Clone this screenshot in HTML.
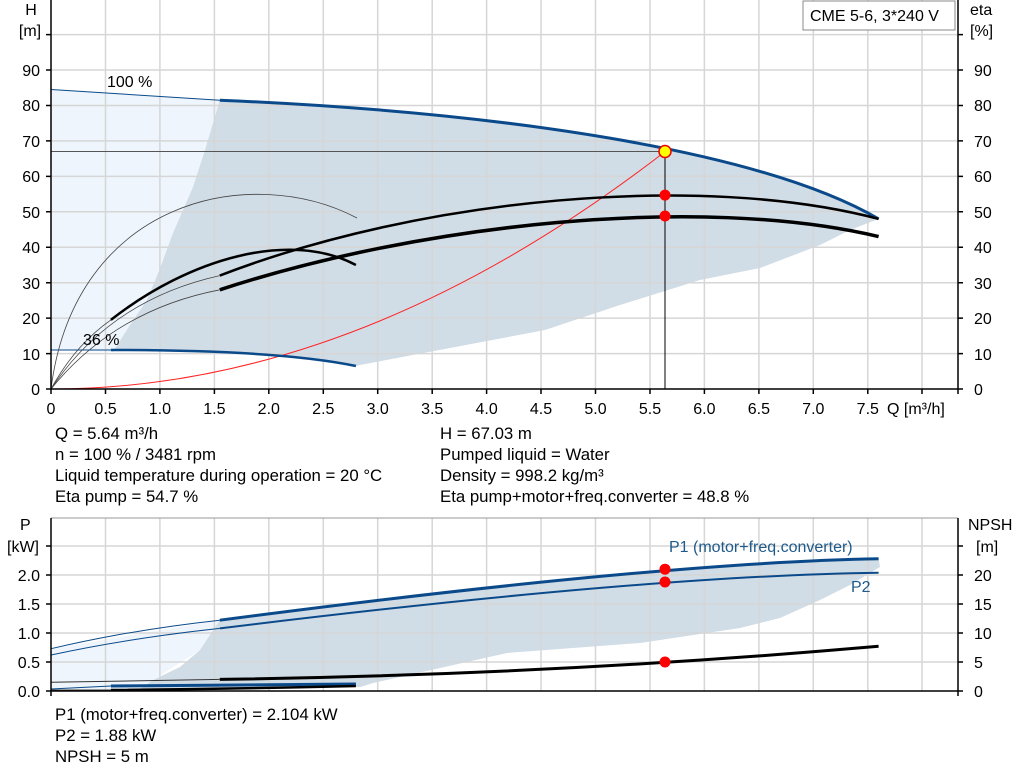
<!DOCTYPE html>
<html><head><meta charset="utf-8"><style>
body{margin:0;background:#fff;}
svg{display:block;font-family:"Liberation Sans",sans-serif;}
</style></head><body>
<svg width="1024" height="781" viewBox="0 0 1024 781" xmlns="http://www.w3.org/2000/svg">
<rect width="1024" height="781" fill="#fff"/>
<!-- TOP CHART -->
<polygon fill="#eef5fc" points="51,89.5 219.8,100.2 205,150 193,187 173,233 147,300 113,352 51,350"/>
<path fill="#d0dce6" d="M219.8,100.2 C500,112 760,150 878.6,218.9 L850,230 820,245 760,268 700,280 620,305 545,330 450,348 360,365 355.9,366 Q280,350 110.9,350 L113,352 130,325 147,300 160,268 173,233 193,187 205,150 Z"/>
<g stroke="#d6d6d6" stroke-width="1.5" fill="none">
<path d="M105.5,0V389M159.9,0V389M214.4,0V389M268.8,0V389M323.3,0V389M377.7,0V389M432.2,0V389M486.6,0V389M541,0V389M595.5,0V389M650,0V389M704.4,0V389M758.9,0V389M813.3,0V389M867.8,0V389M922,0V389"/>
<path d="M51,353.6H958M51,318.1H958M51,282.7H958M51,247.2H958M51,211.8H958M51,176.4H958M51,140.9H958M51,105.5H958M51,70H958M51,34.6H958"/>
</g>
<line x1="51" y1="151.5" x2="665" y2="151.5" stroke="#555" stroke-width="1"/>
<line x1="665" y1="151.5" x2="665" y2="389" stroke="#000" stroke-width="1"/>
<path d="M51,389 Q358.1,389 665.2,151.5" fill="none" stroke="#f22" stroke-width="1"/>
<!-- 100% H -->
<path d="M51,89.5 L219.8,100.2" stroke="#0b4a8a" stroke-width="1" fill="none"/>
<path d="M219.8,100.2 C500,112 760,150 878.6,218.9" fill="none" stroke="#0b4a8a" stroke-width="3"/>
<!-- 36% H -->
<path d="M51,350 L110.9,350" stroke="#0b4a8a" stroke-width="1" fill="none"/>
<path d="M110.9,350 Q280,350 355.9,366" fill="none" stroke="#0b4a8a" stroke-width="2.5"/>
<!-- thin eta curves -->
<g fill="none" stroke="#444" stroke-width="0.8">
<path d="M51,389 Q110,300 219.8,275.6"/>
<path d="M51,389 Q115,310 219.8,289.8"/>
<path d="M51,389 Q75,345 110.9,319.9"/>
<path d="M51,389 C75,200 250,162 357,218"/>
</g>
<path d="M219.8,275.6 C420,198 700,172 878.6,218.9" fill="none" stroke="#000" stroke-width="2.5"/>
<path d="M219.8,289.8 C420,224 700,194 878.6,236.6" fill="none" stroke="#000" stroke-width="3.5"/>
<path d="M110.9,319.9 C190,258 290,230 355.9,265" fill="none" stroke="#000" stroke-width="2.5"/>
<circle cx="665" cy="195.1" r="5.5" fill="#f00"/>
<circle cx="665" cy="216" r="5.5" fill="#f00"/>
<circle cx="665" cy="151.5" r="6" fill="#ff0" stroke="#e00" stroke-width="1.5"/>
<!-- axes -->
<g stroke="#000" stroke-width="1.5">
<line x1="51" y1="0" x2="51" y2="394"/>
<line x1="958" y1="0" x2="958" y2="394"/>
<line x1="46" y1="389" x2="963" y2="389"/>
<path d="M46,353.6H51M46,318.1H51M46,282.7H51M46,247.2H51M46,211.8H51M46,176.4H51M46,140.9H51M46,105.5H51M46,70H51M46,34.6H51"/>
<path d="M958,353.6H963M958,318.1H963M958,282.7H963M958,247.2H963M958,211.8H963M958,176.4H963M958,140.9H963M958,105.5H963M958,70H963M958,34.6H963"/>
<path d="M105.5,389v5M159.9,389v5M214.4,389v5M268.8,389v5M323.3,389v5M377.7,389v5M432.2,389v5M486.6,389v5M541,389v5M595.5,389v5M650,389v5M704.4,389v5M758.9,389v5M813.3,389v5M867.8,389v5M922,389v5"/>
</g>
<g font-size="16" fill="#000" text-anchor="end">
<text x="40" y="395">0</text><text x="40" y="360">10</text><text x="40" y="324">20</text><text x="40" y="289">30</text><text x="40" y="253">40</text><text x="40" y="218">50</text><text x="40" y="182">60</text><text x="40" y="147">70</text><text x="40" y="111">80</text><text x="40" y="76">90</text>
</g>
<g font-size="16" fill="#000" text-anchor="start">
<text x="974" y="395">0</text><text x="974" y="360">10</text><text x="974" y="324">20</text><text x="974" y="289">30</text><text x="974" y="253">40</text><text x="974" y="218">50</text><text x="974" y="182">60</text><text x="974" y="147">70</text><text x="974" y="111">80</text><text x="974" y="76">90</text>
<text x="970" y="15">eta</text><text x="970" y="36">[%]</text>
</g>
<g font-size="16" fill="#000" text-anchor="middle">
<text x="31" y="15">H</text><text x="30" y="36">[m]</text>
<text x="51" y="414">0</text><text x="105.5" y="414">0.5</text><text x="159.9" y="414">1.0</text><text x="214.4" y="414">1.5</text><text x="268.8" y="414">2.0</text><text x="323.3" y="414">2.5</text><text x="377.7" y="414">3.0</text><text x="432.2" y="414">3.5</text><text x="486.6" y="414">4.0</text><text x="541" y="414">4.5</text><text x="595.5" y="414">5.0</text><text x="650" y="414">5.5</text><text x="704.4" y="414">6.0</text><text x="758.9" y="414">6.5</text><text x="813.3" y="414">7.0</text><text x="867.8" y="414">7.5</text>
</g>
<text x="887" y="414" font-size="16">Q [m³/h]</text>
<text x="107" y="87" font-size="16">100 %</text>
<text x="83" y="345" font-size="16">36 %</text>
<rect x="803" y="1" width="152" height="29" fill="#fff" stroke="#888" stroke-width="1"/>
<text x="810" y="21" font-size="16">CME 5-6, 3*240 V</text>
<g font-size="16.8" fill="#000">
<text x="55" y="439">Q = 5.64 m³/h</text>
<text x="55" y="460">n = 100 % / 3481 rpm</text>
<text x="55" y="481">Liquid temperature during operation = 20 °C</text>
<text x="55" y="502">Eta pump = 54.7 %</text>
<text x="440" y="439">H = 67.03 m</text>
<text x="440" y="460">Pumped liquid = Water</text>
<text x="440" y="481">Density = 998.2 kg/m³</text>
<text x="440" y="502">Eta pump+motor+freq.converter = 48.8 %</text>
</g>
<!-- BOTTOM CHART -->
<polygon fill="#eef5fc" points="51,648.7 219.8,620.2 200,650 153,680 140,689 51,689"/>
<path fill="#d0dce6" d="M219.8,620.2 C450,590 700,562 878.6,558.8 L880,567 850,585 820,600 780,618 740,628 640,643 507,653 440,668 373,683 360,687 140,689 153,680 180,667 200,650 Z"/>
<g stroke="#d6d6d6" stroke-width="1.5" fill="none">
<path d="M105.5,518V691M159.9,518V691M214.4,518V691M268.8,518V691M323.3,518V691M377.7,518V691M432.2,518V691M486.6,518V691M541,518V691M595.5,518V691M650,518V691M704.4,518V691M758.9,518V691M813.3,518V691M867.8,518V691M922,518V691"/>
<path d="M51,662H958M51,633H958M51,604H958M51,575H958M51,546H958"/>
</g>
<line x1="51" y1="518" x2="958" y2="518" stroke="#999" stroke-width="1"/>
<path d="M51,648.7 Q130,630 219.8,620.2" stroke="#0b4a8a" stroke-width="1" fill="none"/>
<path d="M219.8,620.2 C450,590 700,562 878.6,558.8" fill="none" stroke="#0b4a8a" stroke-width="3"/>
<path d="M51,655 Q130,638 219.8,628.4" stroke="#0b4a8a" stroke-width="1" fill="none"/>
<path d="M219.8,628.4 C450,600 700,575 878.6,572.7" fill="none" stroke="#0b4a8a" stroke-width="2"/>
<path d="M51,682.3 L219.8,679.4" stroke="#333" stroke-width="1" fill="none"/>
<path d="M219.8,679.4 Q550,675 878.6,646.3" fill="none" stroke="#000" stroke-width="3"/>
<path d="M51,689 L110.9,686" stroke="#0b4a8a" stroke-width="1" fill="none"/>
<path d="M110.9,686 L355.9,684" stroke="#0b4a8a" stroke-width="3" fill="none"/>
<path d="M51,690 L110.9,690" stroke="#333" stroke-width="1" fill="none"/>
<path d="M110.9,690 Q230,689 355.9,686" stroke="#000" stroke-width="2.5" fill="none"/>
<circle cx="665" cy="569.2" r="5.5" fill="#f00"/>
<circle cx="665" cy="582" r="5.5" fill="#f00"/>
<circle cx="665" cy="662" r="5.5" fill="#f00"/>
<g stroke="#000" stroke-width="1.5">
<line x1="51" y1="518" x2="51" y2="696"/>
<line x1="958" y1="518" x2="958" y2="696"/>
<line x1="46" y1="691" x2="963" y2="691"/>
<path d="M46,662H51M46,633H51M46,604H51M46,575H51M46,546H51M958,662H963M958,633H963M958,604H963M958,575H963M958,546H963"/>
</g>
<g font-size="16" text-anchor="end">
<text x="40" y="697">0.0</text><text x="40" y="668">0.5</text><text x="40" y="639">1.0</text><text x="40" y="610">1.5</text><text x="40" y="581">2.0</text>
</g>
<g font-size="16">
<text x="974" y="697">0</text><text x="974" y="668">5</text><text x="974" y="639">10</text><text x="974" y="610">15</text><text x="974" y="581">20</text>
<text x="968" y="530">NPSH</text><text x="976" y="552">[m]</text>
<text x="20" y="530">P</text><text x="7" y="552">[kW]</text>
<text x="669" y="552" fill="#1f5a8a">P1 (motor+freq.converter)</text>
<text x="851" y="592" fill="#1f5a8a">P2</text>
</g>
<g font-size="16.8">
<text x="55" y="720">P1 (motor+freq.converter) = 2.104 kW</text>
<text x="55" y="741">P2 = 1.88 kW</text>
<text x="55" y="762">NPSH = 5 m</text>
</g>
</svg>
</body></html>
